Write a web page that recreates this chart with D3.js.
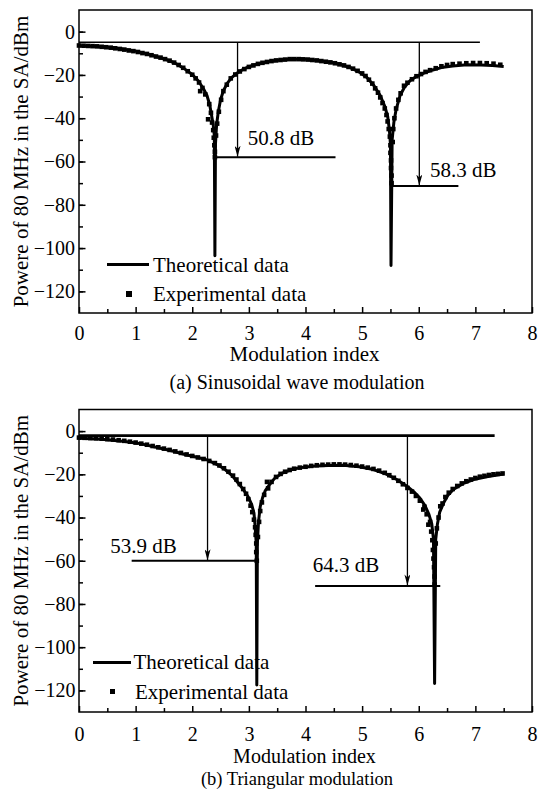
<!DOCTYPE html>
<html>
<head>
<meta charset="utf-8">
<script src="https://cdn.jsdelivr.net/npm/d3@7"></script>
<style>
  body { margin: 0; background: #fff; }
  text { font-family: "Liberation Serif", "Times New Roman", serif; fill: #000; }
</style>
</head>
<body>
<div id="chart"></div>
<script>
// ---- data (modulation index, dBm) ----
const xMajor = [0, 1, 2, 3, 4, 5, 6, 7, 8];
const xMinor = [0.5, 1.5, 2.5, 3.5, 4.5, 5.5, 6.5, 7.5];
const yMajor = [0, -20, -40, -60, -80, -100, -120];
const yMinor = [0, -10, -20, -30, -40, -50, -60, -70, -80, -90, -100, -110, -120];

const sineTheory = [[0,-6.5],[0.25,-6.8],[0.5,-7.2],[0.75,-8.0],[1.0,-9.0],[1.25,-10.6],[1.5,-12.5],
  [1.7,-14.6],[1.87,-17.3],[2.0,-19.8],[2.11,-22.8],[2.2,-26.5],[2.26,-29.5],[2.31,-34],[2.34,-38.5],
  [2.37,-43],[2.39,-48],[2.40,-103.5],[2.41,-52],[2.43,-43],[2.46,-37],[2.50,-31.5],[2.55,-27.3],
  [2.62,-23.8],[2.70,-21.1],[2.80,-19],[2.9,-17.4],[3.0,-16.2],[3.17,-14.8],[3.35,-13.8],[3.58,-13.0],
  [3.8,-12.7],[4.0,-12.8],[4.25,-13.4],[4.49,-14.4],[4.65,-15.4],[4.79,-16.6],[4.95,-18.7],[5.08,-21.1],
  [5.2,-24.6],[5.32,-29.5],[5.40,-34.5],[5.45,-39],[5.48,-45],[5.50,-52],[5.51,-108],[5.53,-50],
  [5.56,-42],[5.60,-36],[5.67,-29.5],[5.75,-25.6],[5.85,-22.6],[5.95,-20.8],[6.08,-19.3],[6.25,-17.7],
  [6.4,-16.6],[6.6,-15.9],[6.85,-15.3],[7.1,-15.4],[7.3,-15.7],[7.5,-16.1]];

const sineExp = [[0.00,-6.4],[0.08,-6.5],[0.16,-6.6],[0.24,-6.7],[0.32,-6.8],[0.40,-7.0],[0.48,-7.2],
  [0.56,-7.4],[0.64,-7.7],[0.72,-8.0],[0.80,-8.3],[0.88,-8.7],[0.96,-9.0],[1.04,-9.4],[1.12,-9.9],
  [1.20,-10.3],[1.28,-10.9],[1.36,-11.5],[1.44,-12.0],[1.52,-12.7],[1.60,-13.4],[1.68,-14.3],[1.76,-15.4],
  [1.84,-16.7],[1.92,-18.3],[2.00,-19.9],[2.06,-21.6],[2.12,-23.5],[2.14,-27.5],[2.18,-26.0],[2.23,-29.0],
  [2.28,-40.5],[2.30,-33.5],[2.33,-37.5],[2.35,-42],[2.37,-45.5],[2.38,-49],[2.39,-52.5],[2.40,-55.5],
  [2.40,-58],[2.42,-48],[2.44,-42.5],[2.47,-37],[2.51,-31.5],[2.55,-27.5],[2.61,-24.5],[2.68,-21.6],
  [2.76,-19.8],[2.84,-18.4],[2.92,-17.3],[3.00,-16.3],[3.08,-15.6],[3.16,-14.9],[3.24,-14.4],[3.32,-14.0],
  [3.40,-13.6],[3.48,-13.3],[3.56,-13.1],[3.64,-12.9],[3.72,-12.7],[3.80,-12.7],[3.88,-12.7],[3.96,-12.8],
  [4.04,-12.9],[4.12,-13.1],[4.20,-13.3],[4.28,-13.6],[4.36,-13.9],[4.44,-14.2],[4.52,-14.6],[4.60,-15.1],
  [4.68,-15.6],[4.76,-16.3],[4.84,-17.1],[4.92,-18.1],[5.00,-19.3],[5.06,-20.5],[5.12,-22.2],[5.18,-24.0],
  [5.23,-26.2],[5.28,-28.2],[5.32,-30.4],[5.36,-33.0],[5.40,-35.5],[5.43,-38.5],[5.45,-41.5],[5.47,-45],
  [5.49,-48.5],[5.50,-52.5],[5.50,-56],[5.51,-59.5],[5.51,-63],[5.52,-66.5],[5.52,-70],[5.54,-51],
  [5.55,-45],[5.57,-40],[5.60,-35.5],[5.64,-31.5],[5.68,-28.5],[5.74,-25.0],[5.80,-23.6],[5.88,-22.0],
  [5.96,-20.6],[6.04,-19.6],[6.12,-18.6],[6.20,-17.8],[6.30,-16.9],[6.40,-16.0],[6.50,-15.4],[6.60,-15.0],
  [6.72,-14.8],[6.84,-14.6],[6.96,-14.5],[7.08,-14.5],[7.20,-14.6],[7.32,-14.8],[7.44,-15.3]];

const triTheory = [[0,-3.3],[0.4,-3.8],[0.81,-4.8],[1.1,-5.9],[1.4,-7.7],[1.65,-9.2],[1.87,-10.8],
  [2.1,-12.2],[2.26,-13.3],[2.45,-15.6],[2.58,-17.8],[2.7,-20.5],[2.81,-24],[2.9,-27],[2.99,-30.5],
  [3.05,-34],[3.09,-38],[3.11,-44],[3.13,-52],[3.14,-117.5],[3.15,-52],[3.17,-42],[3.20,-35],[3.24,-31],
  [3.29,-27.5],[3.35,-25.3],[3.45,-22],[3.58,-19.6],[3.75,-17.8],[3.93,-16.8],[4.17,-16.2],[4.4,-15.9],
  [4.67,-15.8],[4.95,-16.5],[5.2,-17.8],[5.4,-19.6],[5.61,-22.4],[5.78,-25.3],[5.91,-28],[6.02,-31],
  [6.11,-34.5],[6.18,-38.5],[6.23,-43],[6.26,-50],[6.28,-116.8],[6.30,-50],[6.33,-43],[6.37,-37.5],
  [6.44,-33.2],[6.52,-29.5],[6.61,-27],[6.78,-24.3],[6.97,-22.4],[7.2,-21.1],[7.44,-20.1],[7.5,-19.9]];

const triExp = [[0.00,-3.0],[0.10,-3.1],[0.20,-3.2],[0.30,-3.3],[0.40,-3.5],[0.50,-3.7],[0.60,-3.9],
  [0.70,-4.2],[0.80,-4.5],[0.90,-4.9],[1.00,-5.3],[1.10,-5.8],[1.20,-6.3],[1.30,-6.9],[1.40,-7.5],
  [1.50,-8.1],[1.60,-8.7],[1.70,-9.4],[1.80,-10.1],[1.90,-10.8],[2.00,-11.5],[2.10,-12.2],[2.20,-12.9],
  [2.30,-13.8],[2.40,-14.8],[2.48,-15.9],[2.56,-17.2],[2.64,-18.8],[2.72,-20.6],[2.78,-22.4],[2.84,-24.5],
  [2.90,-26.8],[2.95,-29.0],[2.99,-31.5],[3.03,-34.5],[3.06,-37.5],[3.09,-41],[3.11,-44.5],[3.12,-48],
  [3.13,-52],[3.13,-56],[3.14,-60],[3.16,-49],[3.18,-42],[3.20,-37],[3.23,-33],[3.27,-29.5],[3.32,-23.5],
  [3.34,-26.5],[3.40,-23.5],[3.48,-21.2],[3.56,-19.8],[3.64,-18.8],[3.72,-18.0],[3.80,-17.4],[3.90,-16.9],
  [4.00,-16.5],[4.10,-16.1],[4.20,-15.8],[4.30,-15.6],[4.40,-15.5],[4.50,-15.4],[4.60,-15.4],[4.70,-15.5],
  [4.80,-15.7],[4.90,-16.0],[5.00,-16.4],[5.10,-16.9],[5.20,-17.5],[5.30,-18.3],[5.40,-19.3],[5.48,-20.4],
  [5.56,-21.6],[5.64,-23.0],[5.72,-24.6],[5.80,-26.3],[5.88,-28.0],[5.95,-30.0],[6.02,-32.2],[6.08,-36.3],
  [6.10,-35.0],[6.14,-38.5],[6.17,-43.3],[6.20,-42],[6.22,-46.5],[6.24,-50.5],[6.25,-55],[6.26,-59],
  [6.27,-63],[6.28,-67.3],[6.28,-71],[6.30,-52],[6.32,-45],[6.35,-40],[6.38,-34.8],[6.42,-33.5],
  [6.47,-30.5],[6.53,-28.5],[6.60,-26.8],[6.68,-25.4],[6.76,-24.2],[6.84,-23.2],[6.92,-22.4],[7.00,-21.7],
  [7.08,-21.1],[7.16,-20.7],[7.24,-20.3],[7.32,-20.0],[7.40,-19.8],[7.48,-19.6]];

// reference level: [x start, x end, level]
const sineRef = [0, 7.08, -4.9];
const triRef = [0, 7.34, -2.1];
// arrows: x, arrow tip level, bar from, bar to, label, label x, label y
const sineArrows = [
  [2.80, -57.8, 2.40, 4.53, "50.8 dB", 2.98, -52.4],
  [6.01, -71.1, 5.52, 6.70, "58.3 dB", 6.20, -67.0]];
const triArrows = [
  [2.27, -59.8, 0.93, 3.12, "53.9 dB", 0.55, -56.3],
  [5.80, -71.4, 4.17, 6.38, "64.3 dB", 4.13, -65.1]];

const legendNames = ["Theoretical data", "Experimental data"];

const width = 539, height = 789;
const svg = d3.select("#chart").append("svg")
  .attr("width", width).attr("height", height);

svg.append("defs").append("marker")
  .attr("id", "head")
  .attr("markerUnits", "userSpaceOnUse")
  .attr("viewBox", "0 0 6 11")
  .attr("refX", 3).attr("refY", 11)
  .attr("markerWidth", 6).attr("markerHeight", 11)
  .attr("orient", "0")
  .append("path").attr("d", "M0,0 L3,11 L6,0 L3,3 Z").attr("fill", "#000");

const panels = [
  { theory: sineTheory, exp: sineExp, ref: sineRef, refW: 1.4, arrows: sineArrows,
    top: 10, bottom: 313, xPad: 13, yPad: 4, titleY: 361, capY: 389, titleSize: 21, capSize: 20,
    caption: "(a) Sinusoidal wave modulation",
    leg: { lx0: 107, lx1: 149, ly: 264.5, tx: 153, t1: 271.5, mx: 129, my: 294, t2x: 153, t2: 300.5, ms: 6 } },
  { theory: triTheory, exp: triExp, ref: triRef, refW: 2.6, arrows: triArrows,
    top: 409.5, bottom: 712, xPad: 14.5, yPad: 3.5, titleY: 763.3, capY: 784.5, titleSize: 20, capSize: 18.5,
    caption: "(b) Triangular modulation",
    leg: { lx0: 93, lx1: 131, ly: 662.5, tx: 133.5, t1: 668.5, mx: 112.5, my: 691.5, t2x: 135, t2: 698.5, ms: 5 } }
];

const left = 79, right = 532;

const drawPanel = (p) => {
  let x = d3.scaleLinear().domain([0, 8]).range([left, right]);
  let y = d3.scaleLinear().domain([-130, 10]).range([p.bottom, p.top]);
  let g = svg.append("g");

  // minor + major ticks, pointing inward
  let xAxisMinor = d3.axisBottom(x).tickValues(xMinor).tickSizeInner(-4).tickSizeOuter(0).tickFormat("");
  let xAxis = d3.axisBottom(x).tickValues(xMajor).tickSizeInner(-6).tickSizeOuter(0)
    .tickPadding(p.xPad).tickFormat(d3.format("d"));
  let yAxisMinor = d3.axisLeft(y).tickValues(yMinor).tickSizeInner(-4).tickSizeOuter(0).tickFormat("");
  let yAxis = d3.axisLeft(y).tickValues(yMajor).tickSizeInner(-6.5).tickSizeOuter(0)
    .tickPadding(p.yPad).tickFormat(d => d < 0 ? "\u2212" + Math.abs(d) : d);

  [xAxisMinor, xAxis].forEach(a => {
    g.append("g").attr("transform", `translate(0,${p.bottom})`).call(a);
  });
  [yAxisMinor, yAxis].forEach(a => {
    g.append("g").attr("transform", `translate(${left},0)`).call(a);
  });
  g.selectAll(".domain").remove();
  g.selectAll(".tick line").attr("stroke", "#000").attr("stroke-width", 1.5);
  g.selectAll(".tick text").style("font-size", "20px")
    .style("font-family", '"Liberation Serif", "Times New Roman", serif');

  g.append("rect")
    .attr("x", left).attr("y", p.top)
    .attr("width", right - left).attr("height", p.bottom - p.top)
    .attr("fill", "none").attr("stroke", "#000").attr("stroke-width", 1.5);

  // reference level line
  g.append("line")
    .attr("x1", x(p.ref[0])).attr("x2", x(p.ref[1]))
    .attr("y1", y(p.ref[2])).attr("y2", y(p.ref[2]))
    .attr("stroke", "#000").attr("stroke-width", p.refW);

  // theoretical curve
  let line = d3.line().x(d => x(d[0])).y(d => y(d[1]));
  g.append("path").datum(p.theory)
    .attr("d", line)
    .attr("fill", "none").attr("stroke", "#000")
    .attr("stroke-width", 3).attr("stroke-linejoin", "round");

  // experimental points
  g.selectAll(".pt").data(p.exp).enter().append("rect")
    .attr("class", "pt")
    .attr("x", d => x(d[0]) - 2.3).attr("y", d => y(d[1]) - 2.3)
    .attr("width", 4.6).attr("height", 4.6)
    .attr("fill", "#000");

  // arrows with depth bars
  p.arrows.forEach(a => {
    g.append("line")
      .attr("x1", x(a[0])).attr("x2", x(a[0]))
      .attr("y1", y(p.ref[2])).attr("y2", y(a[1]))
      .attr("stroke", "#000").attr("stroke-width", 1.3)
      .attr("marker-end", "url(#head)");
    g.append("line")
      .attr("x1", x(a[2])).attr("x2", x(a[3]))
      .attr("y1", y(a[1]) + 0.5).attr("y2", y(a[1]) + 0.5)
      .attr("stroke", "#000").attr("stroke-width", 2);
    g.append("text")
      .attr("x", x(a[5])).attr("y", y(a[6]))
      .style("font-size", "21px")
      .text(a[4]);
  });

  // legend
  let L = p.leg;
  g.append("line")
    .attr("x1", L.lx0).attr("x2", L.lx1).attr("y1", L.ly).attr("y2", L.ly)
    .attr("stroke", "#000").attr("stroke-width", 3);
  g.append("text").attr("x", L.tx).attr("y", L.t1).style("font-size", "21px").text(legendNames[0]);
  g.append("rect")
    .attr("x", L.mx - L.ms / 2).attr("y", L.my - L.ms / 2)
    .attr("width", L.ms).attr("height", L.ms).attr("fill", "#000");
  g.append("text").attr("x", L.t2x).attr("y", L.t2).style("font-size", "21px").text(legendNames[1]);

  // axis titles and caption
  g.append("text")
    .attr("transform", `translate(28,${(p.top + p.bottom) / 2}) rotate(-90)`)
    .attr("text-anchor", "middle")
    .style("font-size", "21px")
    .text("Powere of 80 MHz in the SA/dBm");
  g.append("text")
    .attr("x", 304.5).attr("y", p.titleY)
    .attr("text-anchor", "middle")
    .style("font-size", p.titleSize + "px")
    .text("Modulation index");
  g.append("text")
    .attr("x", 297).attr("y", p.capY)
    .attr("text-anchor", "middle")
    .style("font-size", p.capSize + "px")
    .text(p.caption);
};

panels.forEach(drawPanel);
</script>
</body>
</html>
